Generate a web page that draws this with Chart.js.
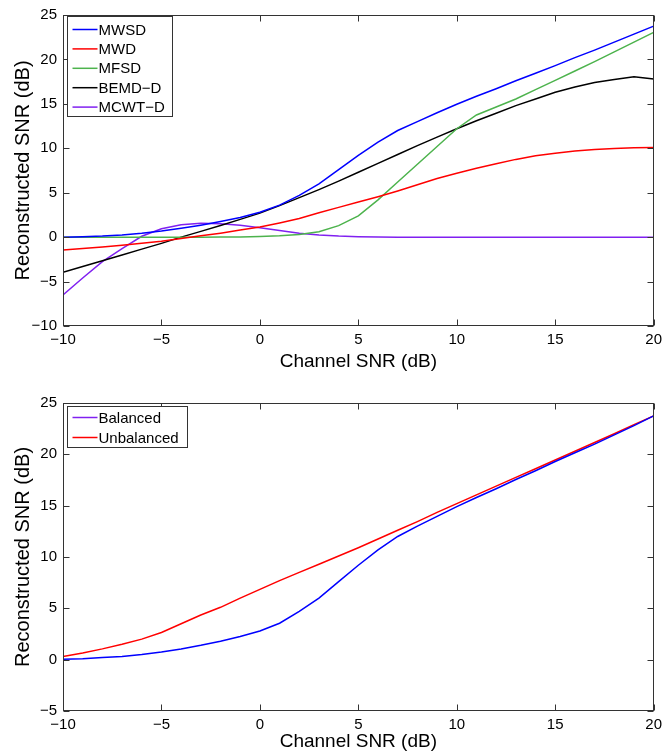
<!DOCTYPE html>
<html lang="en">
<head>
    <meta charset="UTF-8">
    <title>Reconstructed SNR vs Channel SNR</title>
    <script src="https://cdnjs.cloudflare.com/ajax/libs/Chart.js/4.4.1/chart.umd.min.js"></script>
    <style>
        * { margin: 0; padding: 0; box-sizing: border-box; }
        body { width: 667px; height: 753px; background: #fff; position: relative; overflow: hidden; }
        canvas { position: absolute; left: 0; }
        #topChart { top: 0; }
        #bottomChart { top: 378px; }
    </style>
</head>
<body>
    <canvas id="topChart" width="667" height="378"></canvas>
    <canvas id="bottomChart" width="667" height="375"></canvas>

    <script>
        // data, channel SNR in dB
        const snr = [-10, -9, -8, -7, -6, -5, -4, -3, -2, -1, 0, 1, 2, 3, 4, 5, 6, 7, 8, 9, 10,
                     11, 12, 13, 14, 15, 16, 17, 18, 19, 20];

        // top panel
        const mwsd  = [0.0, 0.05, 0.12, 0.25, 0.45, 0.7, 1.0, 1.35, 1.75, 2.2, 2.8, 3.6, 4.7, 6.0, 7.6, 9.2, 10.7, 12.0, 13.0, 14.0, 14.95,
                       15.85, 16.7, 17.6, 18.45, 19.3, 20.2, 21.05, 21.95, 22.85, 23.75];
        const mwd   = [-1.45, -1.28, -1.1, -0.9, -0.68, -0.45, -0.15, 0.15, 0.45, 0.8, 1.15, 1.6, 2.1, 2.75, 3.35, 3.95, 4.55, 5.2, 5.9, 6.6, 7.2,
                       7.75, 8.25, 8.75, 9.15, 9.45, 9.7, 9.85, 9.97, 10.05, 10.1];
        const mfsd  = [0, 0, 0, 0, 0, 0, 0, 0, 0.01, 0.03, 0.07, 0.15, 0.3, 0.6, 1.3, 2.4, 4.2, 6.2, 8.2, 10.2, 12.2,
                       13.75, 14.65, 15.55, 16.6, 17.65, 18.7, 19.75, 20.85, 21.95, 23.05];
        const bemd  = [-3.95, -3.3, -2.65, -2.0, -1.35, -0.7, 0.0, 0.65, 1.3, 2.0, 2.7, 3.55, 4.45, 5.35, 6.3, 7.3, 8.3, 9.3, 10.3, 11.25, 12.2,
                       13.1, 13.95, 14.8, 15.55, 16.3, 16.9, 17.4, 17.75, 18.05, 17.8];
        const mcwt  = [-6.5, -4.6, -2.75, -1.3, 0.1, 0.95, 1.4, 1.55, 1.5, 1.35, 1.05, 0.75, 0.45, 0.25, 0.12, 0.05, 0.02, 0, 0, 0, 0,
                       0, 0, 0, 0, 0, 0, 0, 0, 0, 0];

        // bottom panel
        const balanced   = [0.05, 0.1, 0.2, 0.32, 0.5, 0.75, 1.05, 1.4, 1.8, 2.25, 2.8, 3.55, 4.7, 6.0, 7.6, 9.2, 10.7, 12.0, 13.0, 13.95, 14.9,
                            15.8, 16.65, 17.55, 18.4, 19.3, 20.15, 21.0, 21.9, 22.8, 23.75];
        const unbalanced = [0.3, 0.65, 1.05, 1.5, 2.0, 2.65, 3.5, 4.35, 5.1, 6.0, 6.85, 7.7, 8.5, 9.3, 10.1, 10.9, 11.75, 12.6, 13.45, 14.35, 15.2,
                            16.05, 16.9, 17.75, 18.6, 19.45, 20.3, 21.15, 22.0, 22.9, 23.75];

        const xTicks = [-10, -5, 0, 5, 10, 15, 20];

        const FONT = '"Liberation Sans", Arial, Helvetica, sans-serif';
        const AXIS = '#333333';

        const pts = ys => snr.map((x, i) => ({ x: x, y: ys[i] }));
        const minus = v => String(v).replace('-', '\u2212');

        function series(label, ys, color) {
            return {
                label: label,
                data: pts(ys),
                borderColor: color,
                backgroundColor: color,
                borderWidth: 1.5,
                pointRadius: 0,
                tension: 0,
                fill: false
            };
        }

        // box round the axes with inward ticks on all four sides
        const matlabBox = {
            id: 'matlabBox',
            afterDatasetsDraw(chart) {
                const { ctx, chartArea: a, scales } = chart;
                const L = Math.round(a.left) + 0.5, R = Math.round(a.right) - 0.5;
                const T = Math.round(a.top) + 0.5, B = Math.round(a.bottom) - 0.5;
                ctx.save();
                ctx.strokeStyle = AXIS;
                ctx.lineWidth = 1;
                ctx.beginPath();
                scales.x.ticks.forEach(t => {
                    const px = Math.round(scales.x.getPixelForValue(t.value)) + 0.5;
                    ctx.moveTo(px, B); ctx.lineTo(px, B - 6);
                    ctx.moveTo(px, T); ctx.lineTo(px, T + 6);
                });
                scales.y.ticks.forEach(t => {
                    const py = Math.round(scales.y.getPixelForValue(t.value)) + 0.5;
                    ctx.moveTo(L, py); ctx.lineTo(L + 6, py);
                    ctx.moveTo(R, py); ctx.lineTo(R - 6, py);
                });
                ctx.stroke();
                ctx.strokeRect(L, T, R - L, B - T);
                ctx.restore();
            }
        };

        // legend box inside the axes, top left
        const boxLegend = {
            id: 'boxLegend',
            afterDraw(chart, args, opts) {
                const { ctx, chartArea: a } = chart;
                const x0 = Math.round(a.left + opts.dx) + 0.5;
                const y0 = Math.round(a.top + opts.dy) + 0.5;
                ctx.save();
                ctx.fillStyle = '#fff';
                ctx.fillRect(x0, y0, opts.w, opts.h);
                ctx.strokeStyle = AXIS;
                ctx.lineWidth = 1;
                ctx.strokeRect(x0, y0, opts.w, opts.h);
                ctx.font = '15px ' + FONT;
                ctx.textBaseline = 'middle';
                ctx.textAlign = 'left';
                chart.data.datasets.forEach((ds, i) => {
                    const y = y0 + opts.first + i * opts.row;
                    ctx.strokeStyle = (opts.swatch && opts.swatch[i]) || ds.borderColor;
                    ctx.lineWidth = 1.5;
                    ctx.beginPath();
                    ctx.moveTo(x0 + 5, y);
                    ctx.lineTo(x0 + 30, y);
                    ctx.stroke();
                    ctx.fillStyle = '#000';
                    ctx.fillText(ds.label.replace('-', '\u2212'), x0 + 31, y + 1);
                });
                ctx.restore();
            }
        };

        function makeOptions(yMin, yMax, xHeight, padTop, titlePad, legend) {
            return {
                responsive: false,
                animation: false,
                events: [],
                layout: { padding: { top: padTop, right: 11, left: 0, bottom: 0 } },
                plugins: {
                    legend: { display: false },
                    tooltip: { enabled: false },
                    boxLegend: legend
                },
                scales: {
                    x: {
                        type: 'linear',
                        min: -10,
                        max: 20,
                        afterBuildTicks: s => { s.ticks = xTicks.map(v => ({ value: v })); },
                        afterFit: s => { s.height = xHeight; },
                        grid: { display: false, drawTicks: false },
                        border: { display: false },
                        ticks: {
                            color: '#000',
                            padding: 5,
                            maxRotation: 0,
                            font: { family: FONT, size: 15 },
                            callback: v => minus(v)
                        },
                        title: {
                            display: true,
                            text: 'Channel SNR (dB)',
                            color: '#000',
                            padding: { top: 0, bottom: titlePad },
                            font: { family: FONT, size: 19 }
                        }
                    },
                    y: {
                        type: 'linear',
                        min: yMin,
                        max: yMax,
                        afterFit: s => { s.width = 63; },
                        grid: { display: false, drawTicks: false },
                        border: { display: false },
                        ticks: {
                            stepSize: 5,
                            color: '#000',
                            padding: 6,
                            font: { family: FONT, size: 15 },
                            callback: v => minus(v)
                        },
                        title: {
                            display: true,
                            text: 'Reconstructed SNR (dB)',
                            color: '#000',
                            padding: { top: 11, bottom: 0 },
                            font: { family: FONT, size: 20 }
                        }
                    }
                }
            };
        }

        new Chart(document.getElementById('topChart'), {
            type: 'line',
            data: {
                datasets: [
                    series('MWSD', mwsd, '#0000ff'),
                    series('MWD', mwd, '#ff0000'),
                    series('MFSD', mfsd, '#4db34d'),
                    series('BEMD-D', bemd, '#000000'),
                    series('MCWT-D', mcwt, '#8020f0')
                ]
            },
            options: makeOptions(-10, 25, 52, 13, 5, { dx: 4, dy: 1, w: 105, h: 100, first: 13, row: 19.4 }),
            plugins: [matlabBox, boxLegend]
        });

        new Chart(document.getElementById('bottomChart'), {
            type: 'line',
            data: {
                datasets: [
                    series('Balanced', balanced, '#0000ff'),
                    series('Unbalanced', unbalanced, '#ff0000')
                ]
            },
            options: makeOptions(-5, 25, 42, 25, 0, { dx: 4, dy: 3, w: 120, h: 41, first: 11, row: 20, swatch: ['#8020f0', null] }),
            plugins: [matlabBox, boxLegend]
        });
    </script>
</body>
</html>
